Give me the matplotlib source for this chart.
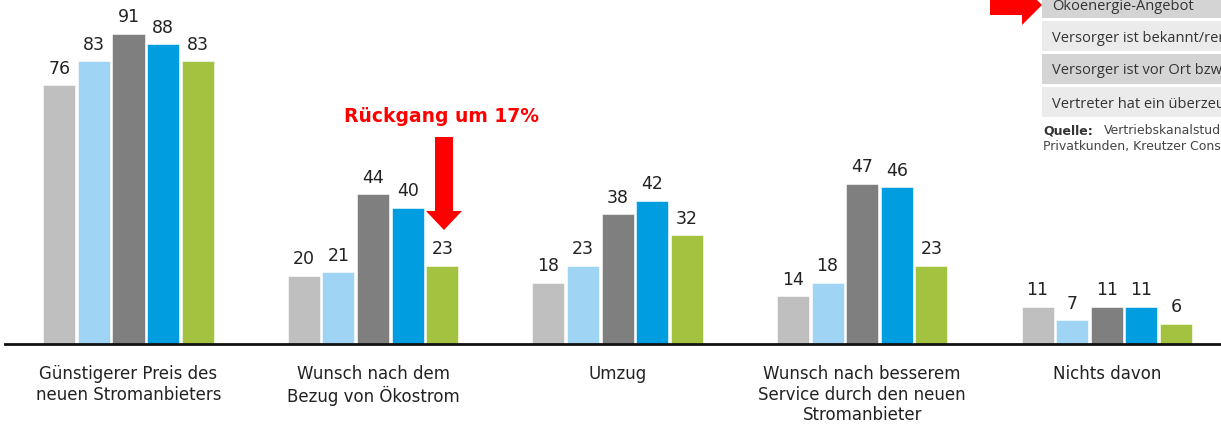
import matplotlib
matplotlib.use("Agg")
import matplotlib.pyplot as plt
from matplotlib.patches import Rectangle, FancyArrow
import numpy as np

categories = ["Günstigerer Preis des\nneuen Stromanbieters",
              "Wunsch nach dem\nBezug von Ökostrom",
              "Umzug",
              "Wunsch nach besserem\nService durch den neuen\nStromanbieter",
              "Nichts davon"]
series = [
    [76, 20, 18, 14, 11],
    [83, 21, 23, 18, 7],
    [91, 44, 38, 47, 11],
    [88, 40, 42, 46, 11],
    [83, 23, 32, 23, 6],
]
colors = ["#bfbfbf", "#9fd4f5", "#7f7f7f", "#009ee0", "#a3c23f"]
table_rows = ["Ökoenergie-Angebot", "Versorger ist bekannt/renommiert",
              "Versorger ist vor Ort bzw. regional", "Vertreter hat ein überzeugendes Angebot"]
source_lines = ["Vertriebskanalstudie", "Privatkunden, Kreutzer Consulting"]
annotation = "Rückgang um 17%"

W, H = 1221, 427
fig = plt.figure(figsize=(W/100, H/100), dpi=100)
fig.patch.set_facecolor("white")

# main axes
ax = fig.add_axes([5/W, 82/H, 1 - 5/W, 1 - 82/H])
ax.set_xlim(-0.505, 4.467)
ax.set_ylim(0, 101.2)
x = np.arange(len(categories))
step = 0.1415
bw = 0.131
for j, vals in enumerate(series):
    pos = x + (j - 2) * step
    ax.bar(pos, vals, width=bw, color=colors[j], edgecolor="white", linewidth=0.4, zorder=2)
    for p, v in zip(pos, vals):
        ax.annotate(str(v), (p, v), xytext=(0, 6), textcoords="offset points",
                    ha="center", va="bottom", fontsize=12.5, family="DejaVu Sans", color="#222222")
for s in ["top", "right", "left"]:
    ax.spines[s].set_visible(False)
ax.spines["bottom"].set_linewidth(2)
ax.spines["bottom"].set_color("#111111")
ax.set_yticks([])
ax.set_xticks(x)
ax.set_xticklabels(categories, fontsize=12, family="DejaVu Sans", color="#222222", linespacing=1.18)
ax.tick_params(axis="x", length=0, pad=14.5)
ax.patch.set_alpha(0)

# overlay in pixel coords
ov = fig.add_axes([0, 0, 1, 1])
ov.set_xlim(0, W)
ov.set_ylim(H, 0)
ov.axis("off")
ov.patch.set_alpha(0)

# red annotation
ov.text(442, 116, annotation, color="#ff0000", fontsize=13.5, fontweight="bold",
        family="DejaVu Sans", ha="center", va="center")
ov.add_patch(FancyArrow(444, 138, 0, 93, width=18, head_width=36, head_length=19,
                        length_includes_head=True, color="#ff0000", lw=0))

# right arrow to table
ov.add_patch(FancyArrow(990, 6, 52, 0, width=20, head_width=40, head_length=20,
                        length_includes_head=True, color="#ff0000", lw=0))

# table rows
row_tops = [-11, 22, 55, 88]
row_cols = ["#d4d4d4", "#ebebeb", "#d4d4d4", "#ebebeb"]
for top, c, txt in zip(row_tops, row_cols, table_rows):
    ov.add_patch(Rectangle((1042, top), 200, 30, color=c, lw=0))
    t = ov.text(1052, top + 16, txt, fontsize=10.5, family="Open Sans", color="#333333",
                ha="left", va="center")
    t.set_clip_on(True)

ov.text(1043, 131, "Quelle:", fontsize=9, fontweight="bold", family="DejaVu Sans",
        color="#333333", ha="left", va="center")
ov.text(1104, 131, source_lines[0], fontsize=9, family="DejaVu Sans",
        color="#444444", ha="left", va="center")
ov.text(1043, 147, source_lines[1], fontsize=9, family="DejaVu Sans",
        color="#444444", ha="left", va="center")

fig.savefig("out.png", dpi=100)
